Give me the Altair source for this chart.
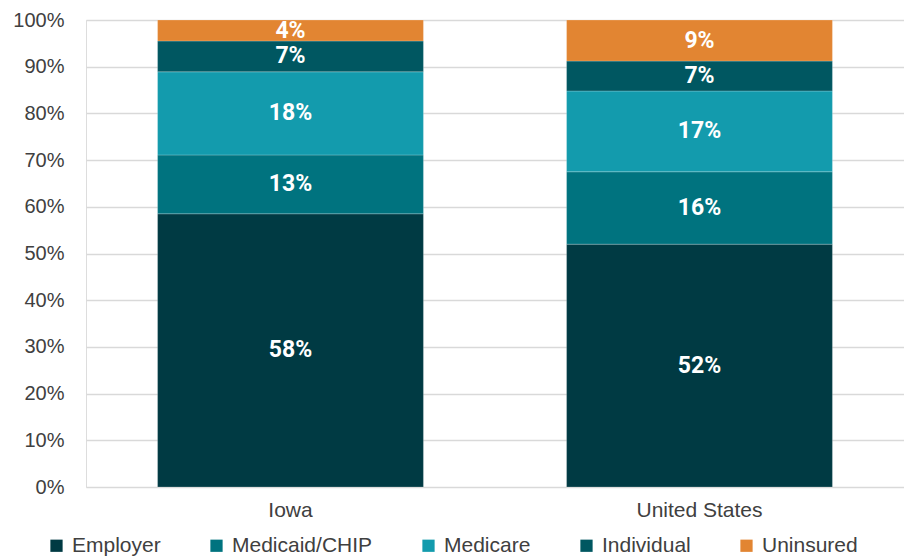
import altair as alt
import pandas as pd

regions = ["Iowa", "United States"]
categories = ["Employer", "Medicaid/CHIP", "Medicare", "Individual", "Uninsured"]
colors = ["#003A43", "#00737F", "#139BAD", "#005761", "#E28532"]
iowa_values = [58.5, 12.6, 17.8, 6.6, 4.5]
us_values = [52.0, 15.5, 17.3, 6.4, 8.8]
iowa_labels = ["58%", "13%", "18%", "7%", "4%"]
us_labels = ["52%", "16%", "17%", "7%", "9%"]

rows = []
for reg, vals, labs in [("Iowa", iowa_values, iowa_labels), ("United States", us_values, us_labels)]:
    for i, (c, v, l) in enumerate(zip(categories, vals, labs)):
        rows.append({"region": reg, "category": c, "value": v / 100.0, "label": l, "order": i})
df = pd.DataFrame(rows)

x_enc = alt.X("region:N", sort=regions, title=None,
              scale=alt.Scale(paddingInner=0.35, paddingOuter=0.175),
              axis=alt.Axis(labelAngle=0, labelFontSize=21, labelColor="#404040",
                            labelFont="Liberation Sans", labelPadding=12,
                            domain=False, ticks=False))

base = alt.Chart(df).transform_stack(
    stack="value", groupby=["region"], as_=["y0", "y1"],
    sort=[alt.SortField("order", order="ascending")]
).transform_calculate(mid="(datum.y0 + datum.y1) / 2")

bars = base.mark_bar(stroke="white", strokeWidth=0.6, strokeOpacity=0.35).encode(
    x=x_enc,
    y=alt.Y("y0:Q", title=None,
            scale=alt.Scale(domain=[0, 1], nice=False),
            axis=alt.Axis(format=".0%", values=[i / 10 for i in range(11)],
                          labelFontSize=20, labelColor="#404040",
                          labelFont="Liberation Sans", labelPadding=22,
                          domain=False, ticks=False,
                          gridColor="#d9d9d9", gridWidth=1.6)),
    y2="y1:Q",
    color=alt.Color("category:N", sort=categories,
                    scale=alt.Scale(domain=categories, range=colors),
                    legend=alt.Legend(title=None, orient="none", direction="horizontal",
                                      legendX=-40, legendY=515,
                                      symbolType="square", symbolSize=150,
                                      symbolStrokeWidth=0, symbolOpacity=1,
                                      labelFontSize=21, labelColor="#404040",
                                      labelFont="Liberation Sans", labelOffset=5,
                                      columnPadding=45, labelLimit=300)),
)

text = base.mark_text(color="white", font="Roboto", fontWeight="bold",
                      fontSize=23, baseline="middle").encode(
    x=alt.X("region:N", sort=regions),
    y=alt.Y("mid:Q"),
    text="label:N",
)

chart = alt.layer(bars, text).properties(
    width=818, height=467,
    autosize=alt.AutoSizeParams(type="none"),
    padding={"left": 86, "top": 20, "right": 0, "bottom": 70},
).configure_view(stroke=None).configure(background="white")

chart.save("out.html", embed_options={"renderer": "svg", "actions": False})
